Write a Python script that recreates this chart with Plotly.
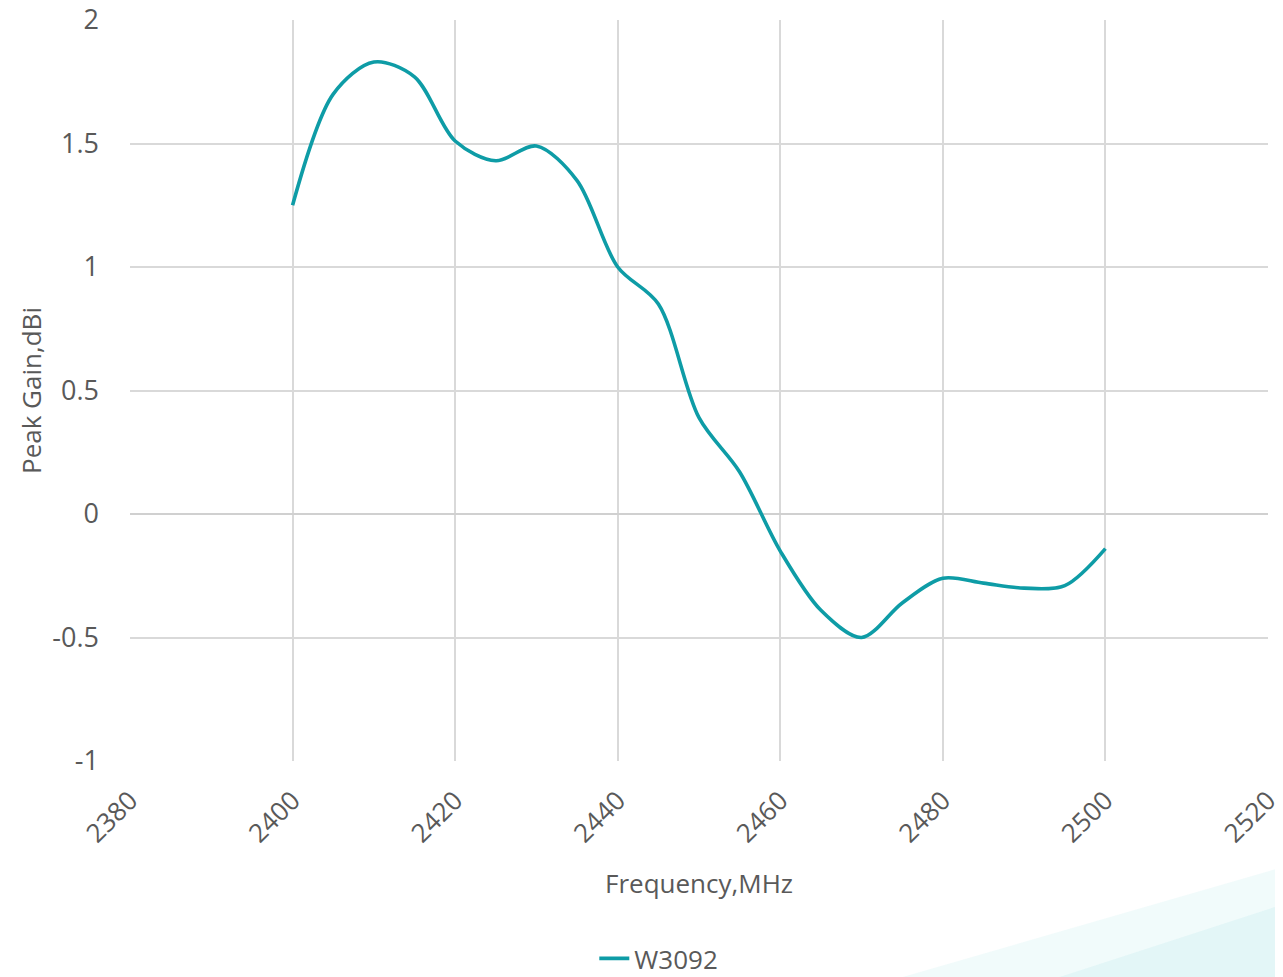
import plotly.graph_objects as go

freq = [2400, 2405, 2410, 2415, 2420, 2425, 2430, 2435, 2440, 2445, 2450,
        2455, 2460, 2465, 2470, 2475, 2480, 2485, 2490, 2495, 2500]
gain = [1.25, 1.70, 1.83, 1.77, 1.51, 1.43, 1.49, 1.35, 1.00, 0.85, 0.39,
        0.17, -0.15, -0.39, -0.50, -0.36, -0.26, -0.28, -0.30, -0.29, -0.14]
series_name = "W3092"
x_ticks = [2380, 2400, 2420, 2440, 2460, 2480, 2500, 2520]
y_ticks = [-1, -0.5, 0, 0.5, 1, 1.5, 2]

font_fam = "'Open Sans', Lato, sans-serif"
grey = "#595959"

fig = go.Figure()
fig.add_trace(go.Scatter(
    x=freq, y=gain, mode="lines", name=series_name,
    line=dict(color="#0E9CA6", width=3.6, shape="spline", smoothing=0.9),
))

# decorative light teal wedge at bottom-right
fig.add_shape(type="path", xref="paper", yref="paper",
              path="M 0.66 -0.30 L 1.02 -0.30 L 1.02 -0.14 Z",
              fillcolor="rgba(200,238,240,0.25)", line=dict(width=0), layer="below")
fig.add_shape(type="path", xref="paper", yref="paper",
              path="M 0.80 -0.30 L 1.02 -0.30 L 1.02 -0.19 Z",
              fillcolor="rgba(200,238,240,0.35)", line=dict(width=0), layer="below")

# the page body adds an 8px offset, so the figure is sized to fit the window
fig.update_layout(
    width=1275, height=969,
    margin=dict(l=122, r=15, t=12, b=216, autoexpand=False),
    paper_bgcolor="white", plot_bgcolor="white",
    font=dict(family=font_fam, color=grey, size=25),
    showlegend=True,
    legend=dict(orientation="h", x=0.408, xanchor="left", y=-0.2665, yanchor="middle",
                font=dict(size=26, color=grey)),
)
fig.update_xaxes(
    range=[2380, 2520], tickvals=x_ticks, tickangle=-45,
    showgrid=True, gridcolor="#D9D9D9", gridwidth=1.5,
    zeroline=False, showline=False, ticks="", automargin=False,
    ticklabelstandoff=18, ticklabeloverflow="allow",
    tickfont=dict(size=26, color=grey),
    title=dict(text="Frequency,MHz", font=dict(size=26, color=grey), standoff=25),
)
fig.update_yaxes(
    range=[-1, 2], tickvals=y_ticks, ticktext=["-1", "-0.5", "0", "0.5", "1", "1.5", "2"],
    showgrid=True, gridcolor="#D9D9D9", gridwidth=1.5,
    zeroline=True, zerolinecolor="#D0D0D0", zerolinewidth=1.5,
    showline=False, ticks="", ticklabelstandoff=30, automargin=False,
    ticklabeloverflow="allow",
    tickfont=dict(size=27, color=grey),
    title=dict(text="Peak Gain,dBi", font=dict(size=26, color=grey), standoff=3),
)

fig.write_html("out.html")
